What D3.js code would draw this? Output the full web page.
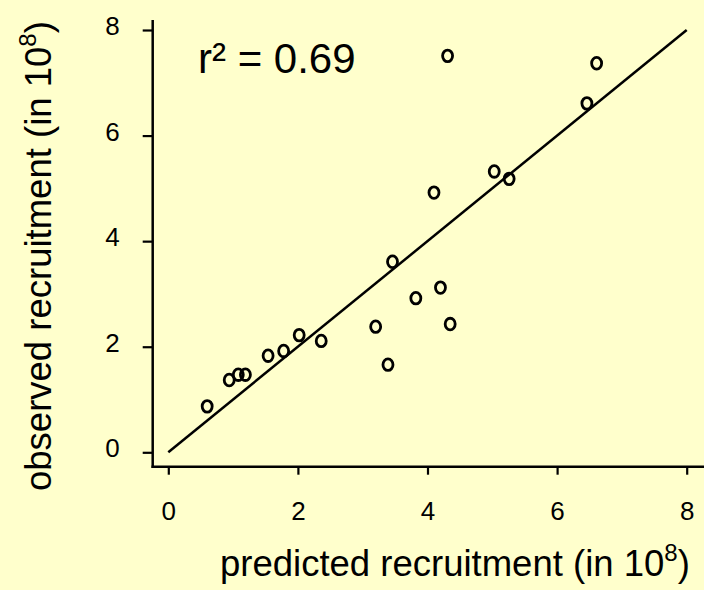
<!DOCTYPE html>
<html>
<head>
<meta charset="utf-8">
<script src="https://cdn.jsdelivr.net/npm/d3@7"></script>
<style>
  html, body { margin: 0; padding: 0; background: #FFFFCC; }
  svg { display: block; }
  text { font-family: "Liberation Sans", Arial, sans-serif; fill: #000; }
</style>
</head>
<body>
<svg id="chart" width="704" height="590"></svg>
<script>
// Predicted vs observed recruitment, in units of 10^8
const predicted = [0.60, 0.94, 1.08, 1.19, 1.54, 1.78, 2.02, 2.36, 3.20, 3.39, 3.46, 3.82, 4.10, 4.20, 4.31, 4.35, 5.03, 5.26, 6.46, 6.61];
const observed  = [0.87, 1.37, 1.47, 1.47, 1.83, 1.92, 2.22, 2.11, 2.38, 1.66, 3.61, 2.92, 4.92, 3.12, 7.51, 2.43, 5.32, 5.18, 6.61, 7.37];
const xTicks = [0, 2, 4, 6, 8];
const yTicks = [0, 2, 4, 6, 8];
const fitLine = [[0, 0], [8, 8]];
const r2Label = "r\u00B2 = 0.69";

const svg = d3.select("#chart");

const x = d3.scaleLinear().domain([0, 8]).range([168.3, 686.7]);
const y = d3.scaleLinear().domain([0, 8]).range([452.3, 30]);

const axisX0 = 152.7, axisY0 = 466.7;
const tickFont = "26px";

// Axis lines (L-shaped frame)
svg.append("line")
  .attr("x1", axisX0).attr("x2", axisX0)
  .attr("y1", 20).attr("y2", axisY0 + 1.2)
  .attr("stroke", "#000").attr("stroke-width", 2.5);
svg.append("line")
  .attr("x1", axisX0 - 1.2).attr("x2", 704)
  .attr("y1", axisY0).attr("y2", axisY0)
  .attr("stroke", "#000").attr("stroke-width", 2.5);

// Y axis ticks and labels
const yAxis = d3.axisLeft(y).tickValues(yTicks).tickSize(10).tickSizeOuter(0);
const gy = svg.append("g").attr("transform", `translate(${axisX0},0)`).call(yAxis);
gy.select(".domain").remove();
gy.selectAll(".tick line").attr("stroke", "#000").attr("stroke-width", 2.2);
gy.selectAll(".tick text")
  .attr("x", -33).attr("dy", 4.5)
  .style("font-size", tickFont)
  .style("font-family", "Liberation Sans, Arial, sans-serif");

// X axis ticks and labels
const xAxis = d3.axisBottom(x).tickValues(xTicks).tickSize(8).tickSizeOuter(0);
const gx = svg.append("g").attr("transform", `translate(0,${axisY0})`).call(xAxis);
gx.select(".domain").remove();
gx.selectAll(".tick line").attr("stroke", "#000").attr("stroke-width", 2.2);
gx.selectAll(".tick text")
  .attr("y", 53.5).attr("dy", 0)
  .style("font-size", tickFont)
  .style("font-family", "Liberation Sans, Arial, sans-serif");

// 1:1 line
svg.append("path")
  .datum(fitLine)
  .attr("d", d3.line().x(d => x(d[0])).y(d => y(d[1])))
  .attr("fill", "none").attr("stroke", "#000").attr("stroke-width", 2.5);

// Data points drawn as open "o" markers
svg.append("g")
  .selectAll("ellipse")
  .data(predicted.map((p, i) => [p, observed[i]]))
  .join("ellipse")
  .attr("cx", d => x(d[0]))
  .attr("cy", d => y(d[1]))
  .attr("rx", 5)
  .attr("ry", 5.8)
  .attr("fill", "none")
  .attr("stroke", "#000")
  .attr("stroke-width", 2.8);

// r-squared annotation
svg.append("text")
  .attr("x", 198).attr("y", 73)
  .style("font-size", "42px")
  .text(r2Label);

// Axis titles
const titleFont = "36.5px", supFont = "24px";
const xt = svg.append("text")
  .attr("x", 220).attr("y", 576)
  .style("font-size", titleFont);
xt.append("tspan").text("predicted recruitment (in 10");
xt.append("tspan").attr("dy", -15).style("font-size", supFont).text("8");
xt.append("tspan").attr("dy", 15).text(")");

const yt = svg.append("text")
  .attr("transform", "translate(51,491) rotate(-90)")
  .style("font-size", titleFont);
yt.append("tspan").text("observed recruitment (in 10");
yt.append("tspan").attr("dy", -15).style("font-size", supFont).text("8");
yt.append("tspan").attr("dy", 15).text(")");
</script>
</body>
</html>
